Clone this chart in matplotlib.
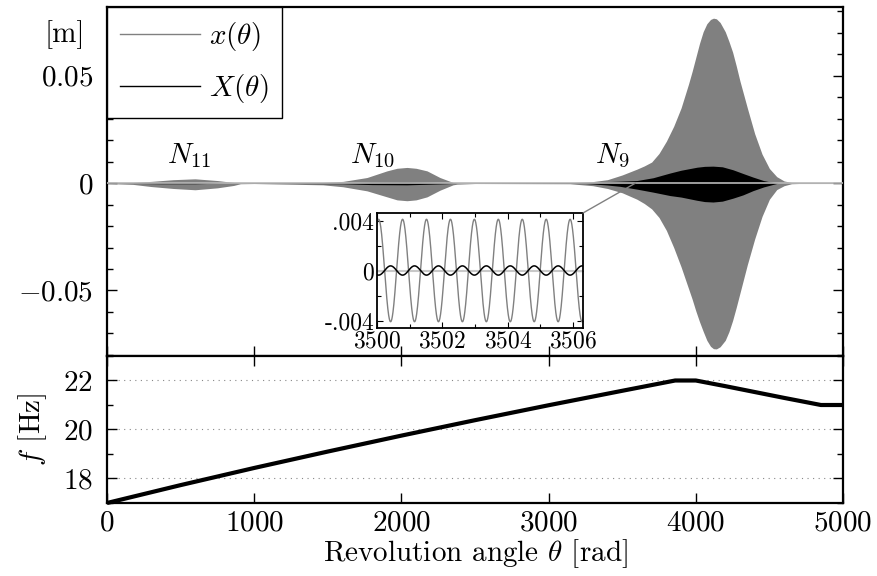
import numpy as np
import matplotlib
matplotlib.use("Agg")
import matplotlib.pyplot as plt
from matplotlib.patches import ConnectionPatch
from matplotlib.ticker import MultipleLocator, FixedLocator

plt.rcParams["font.family"] = "serif"
plt.rcParams["font.serif"] = ["cmr10"]
plt.rcParams["mathtext.fontset"] = "cm"
plt.rcParams["axes.formatter.use_mathtext"] = True

# envelope of the fast response x(theta) [m], three resonance passages
theta_x = [0, 177, 300, 450, 598, 750, 860, 906, 1000, 1467, 1603, 1766, 1902, 1970,
           2038, 2100, 2174, 2262, 2351, 2378, 2500, 3145, 3300, 3400, 3500, 3600,
           3650, 3700, 3750, 3800, 3850, 3900, 3950, 3975, 4000, 4025, 4050, 4075,
           4100, 4120, 4140, 4165, 4200, 4225, 4250, 4275, 4300, 4350, 4400, 4450,
           4500, 4550, 4600, 4650, 4700, 5000]
x_upper = [0.0002, 0.0003, 0.0008, 0.0016, 0.0020, 0.0012, 0.0003, 0.0002, 0.0002,
           0.0003, 0.0008, 0.0026, 0.0057, 0.0069, 0.0073, 0.0069, 0.0057, 0.0026,
           0.0003, 0.0002, 0.0002, 0.0002, 0.0007, 0.0016, 0.0038, 0.0065, 0.0080,
           0.0098, 0.0138, 0.0195, 0.0265, 0.0350, 0.0460, 0.0520, 0.0585, 0.0650,
           0.0705, 0.0742, 0.0762, 0.0768, 0.0765, 0.0748, 0.0705, 0.0660, 0.0610,
           0.0545, 0.0475, 0.0350, 0.0230, 0.0135, 0.0068, 0.0030, 0.0010, 0.0003,
           0.0002, 0.0002]
x_lower = [-0.0002, -0.0006, -0.0016, -0.0025, -0.0031, -0.0022, -0.0011, -0.0003,
           -0.0002, -0.0008, -0.0017, -0.0036, -0.0064, -0.0078, -0.0082, -0.0078,
           -0.0064, -0.0033, -0.0008, -0.0005, -0.0002, -0.0003, -0.0012, -0.0025,
           -0.0045, -0.0075, -0.0095, -0.0120, -0.0160, -0.0220, -0.0300, -0.0390,
           -0.0490, -0.0540, -0.0595, -0.0645, -0.0690, -0.0732, -0.0760, -0.0771,
           -0.0772, -0.0762, -0.0732, -0.0692, -0.0640, -0.0578, -0.0512, -0.0380,
           -0.0260, -0.0155, -0.0075, -0.0030, -0.0012, -0.0003, -0.0002, -0.0002]

# envelope of the averaged response X(theta) [m]
theta_X = [0, 370, 598, 800, 1600, 1800, 2038, 2300, 2400, 3250, 3300, 3400, 3485,
           3600, 3710, 3825, 3900, 4008, 4060, 4117, 4180, 4253, 4320, 4389, 4460,
           4525, 4560, 5000]
X_upper = [0, 0.0003, 0.0003, 0, 0.0002, 0.0005, 0.0006, 0.0002, 0, 0.0002, 0.0003,
           0.0007, 0.0009, 0.0012, 0.0025, 0.0047, 0.0060, 0.0074, 0.0078, 0.0079,
           0.0076, 0.0062, 0.0045, 0.0028, 0.0012, 0.0003, 0, 0]
X_lower = [0, -0.0003, -0.0003, 0, -0.0003, -0.0007, -0.0008, -0.0003, 0, -0.0002,
           -0.0004, -0.0009, -0.0015, -0.0028, -0.0042, -0.0058, -0.0065, -0.0080,
           -0.0086, -0.0088, -0.0084, -0.0070, -0.0055, -0.0035, -0.0018, -0.0006,
           0, 0]

# zoomed window: amplitude, period and phase of both responses
zoom_range = (3500.0, 3506.3)
x_amp, X_amp = 0.0041, 0.00037
period = 0.732
peak_theta = 3500.05

# excitation frequency along the run
theta_f = [0, 500, 1000, 1500, 2000, 2500, 3000, 3500, 3860, 4000, 4200, 4400,
           4600, 4850, 5000]
f_hz = [17.0, 17.73, 18.43, 19.10, 19.75, 20.38, 20.99, 21.58, 22.0, 22.0, 21.77,
        21.53, 21.29, 21.0, 21.0]

resonances = [(557, r"$N_{11}$"), (1807, r"$N_{10}$"), (3431, r"$N_{9}$")]

W, H = 877, 576
fig = plt.figure(figsize=(W / 100, H / 100), dpi=100)
ax = fig.add_axes([107 / W, 1 - 356 / H, 736 / W, 349 / H])
axf = fig.add_axes([107 / W, 1 - 503 / H, 736 / W, 147 / H])
FS = 21
GRAY = "#808080"

# --- displacement panel ---
ax.fill_between(theta_x, x_lower, x_upper, color=GRAY, lw=0)
ax.fill_between(theta_X, X_lower, X_upper, color="k", lw=0)
ax.axhline(0, color="#b8b8b8", lw=1.2, zorder=3)
ax.plot([], [], color=GRAY, lw=1, label=r"$x(\theta)$")
ax.plot([], [], color="k", lw=1, label=r"$X(\theta)$")
for th, lbl in resonances:
    ax.text(th, 0.0092, lbl, ha="center", va="baseline", fontsize=FS)
ax.set_xlim(0, 5000)
ax.set_ylim(-0.0805, 0.082)
ax.set_yticks([-0.05, 0, 0.05])
ax.set_yticklabels([r"$-0.05$", r"$0$", r"$0.05$"])
ax.yaxis.set_minor_locator(MultipleLocator(0.01))
ax.xaxis.set_major_locator(MultipleLocator(1000))
ax.tick_params(axis="x", labelbottom=False, direction="in", length=7, width=1)
ax.tick_params(axis="y", which="both", direction="in", left=True, right=True,
               labelsize=FS, pad=10)
ax.tick_params(axis="y", which="major", length=7, width=1)
ax.tick_params(axis="y", which="minor", length=4, width=1)
leg = ax.legend(loc="upper left", bbox_to_anchor=(0, 1), borderaxespad=0,
                fancybox=False, edgecolor="k", framealpha=1, fontsize=FS,
                handlelength=2.75, handletextpad=0.3, labelspacing=0.65,
                borderpad=0.45)
leg.get_frame().set_linewidth(1.0)
leg.set_zorder(5)
fig.text(65 / W, 1 - 35 / H, "[m]", ha="center", va="center", fontsize=FS)

# --- zoom window ---
axi = fig.add_axes([377 / W, 1 - 328 / H, 206 / W, 115 / H])
th_z = np.linspace(zoom_range[0], zoom_range[1], 1200)
phase = 2 * np.pi * (th_z - peak_theta) / period
axi.axhline(0, color="#c8c8c8", lw=1.5)
axi.plot(th_z, x_amp * np.cos(phase), color=GRAY, lw=1)
axi.plot(th_z, -X_amp * np.cos(phase), color="k", lw=1.1)
axi.set_xlim(*zoom_range)
axi.set_ylim(-0.0046, 0.0046)
axi.set_xticks([3500, 3502, 3504, 3506])
axi.xaxis.set_minor_locator(MultipleLocator(1))
axi.set_yticks([-0.004, 0, 0.004])
axi.set_yticklabels(["-.004", "0", ".004"])
axi.yaxis.set_minor_locator(FixedLocator([-0.002, 0.002]))
axi.tick_params(which="both", direction="in", top=True, right=True, labelsize=17,
                pad=2, width=0.8)
axi.tick_params(which="major", length=4)
axi.tick_params(which="minor", length=3)
for s in axi.spines.values():
    s.set_linewidth(1.3)
con = ConnectionPatch(xyA=(1, 1), coordsA=axi.transAxes, xyB=(3590, 0),
                      coordsB=ax.transData, color=GRAY, lw=1)
fig.add_artist(con)

# --- frequency panel ---
axf.plot(theta_f, f_hz, color="k", lw=3, solid_capstyle="butt", clip_on=False)
axf.set_xlim(0, 5000)
axf.set_ylim(17, 23)
axf.set_yticks([18, 20, 22])
axf.set_yticklabels([r"$18$", r"$20$", r"$22$"])
axf.yaxis.set_minor_locator(MultipleLocator(1))
axf.set_xticks([0, 1000, 2000, 3000, 4000, 5000])
axf.set_xticklabels([rf"${v}$" for v in [0, 1000, 2000, 3000, 4000, 5000]])
axf.grid(axis="y", which="major", color="#888888", ls=(0, (1, 4)), lw=0.8)
axf.tick_params(which="both", direction="in", top=True, right=True, labelsize=FS,
                width=1)
axf.tick_params(which="major", length=7)
axf.tick_params(which="minor", length=4)
axf.tick_params(axis="y", pad=10)
axf.tick_params(axis="x", pad=5)
axf.set_xlabel(r"Revolution angle $\theta$ [rad]", fontsize=FS, labelpad=1)
axf.set_ylabel(r"$f$ [Hz]", fontsize=FS, labelpad=10)

for a in (ax, axf):
    for s in a.spines.values():
        s.set_linewidth(1.6)

fig.savefig("out.png", dpi=100)
